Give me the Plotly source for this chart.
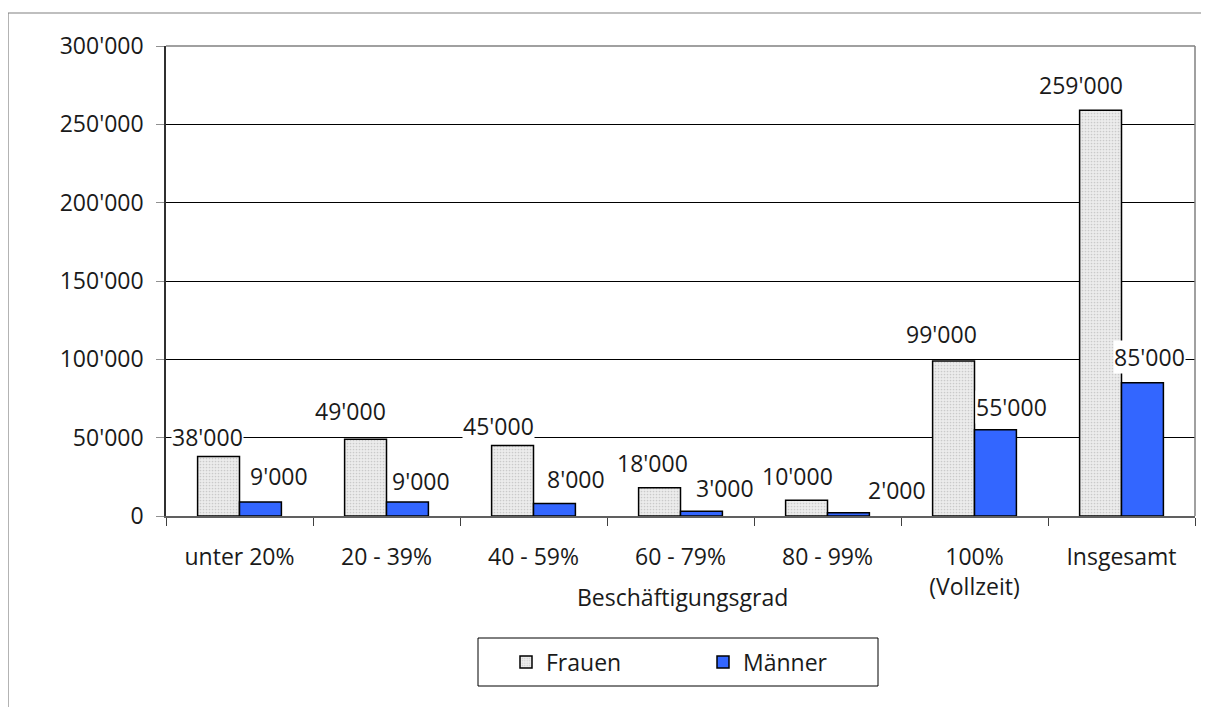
import plotly.graph_objects as go

# ---- data ----
categories = ["unter 20%", "20 - 39%", "40 - 59%", "60 - 79%", "80 - 99%", "100%<br>(Vollzeit)", "Insgesamt"]
frauen = [38000, 49000, 45000, 18000, 10000, 99000, 259000]
maenner = [9000, 9000, 8000, 3000, 2000, 55000, 85000]
y_ticks = [0, 50000, 100000, 150000, 200000, 250000, 300000]
series_names = ["Frauen", "Männer"]
x_title = "Beschäftigungsgrad"

# ---- label placement tweaks (pixels, relative to bar centre / bar top) ----
dx_f = [-11, -15, -14, -7, -9, -12, -20]
dy_f = [19, 28, 20, 25, 24, 27, 25]
dx_m = [18, 13, 21, 23, 48, 16, 7]
dy_m = [26, 21, 24, 23, 23, 23, 26]

def fmt(v):
    return f"{v:,}".replace(",", "'")

FONT = "Open Sans"
FS = 23
TXT = "#1a1a1a"

# page body has an 8px margin: figure occupies 8..1209 x 8..707 of the window
OFF = 8
W, H = 1209 - OFF, 707 - OFF
PLOT_L, PLOT_R, PLOT_T, PLOT_B = 166, 1195, 46, 516  # window pixels
ML, MR, MT, MB = PLOT_L - OFF, 1209 - PLOT_R, PLOT_T - OFF, 707 - PLOT_B
PW, PH = PLOT_R - PLOT_L, PLOT_B - PLOT_T

def px_x(p):
    return (p - PLOT_L) / PW

def px_y(p):
    return (PLOT_B - p) / PH

fig = go.Figure()
fig.add_trace(go.Bar(
    x=categories, y=frauen, name=series_names[0],
    marker=dict(color="#e8e8e8", line=dict(color="black", width=1.5),
                pattern=dict(shape=".", fgcolor="#a8a8a8", bgcolor="#ececec", size=3, solidity=0.25)),
))
fig.add_trace(go.Bar(
    x=categories, y=maenner, name=series_names[1],
    marker=dict(color="#3366ff", line=dict(color="black", width=1.5)),
))

bar_half = 21
annotations = []
for i, c in enumerate(categories):
    annotations.append(dict(
        x=c, y=frauen[i], xref="x", yref="y", text=fmt(frauen[i]),
        showarrow=False, xanchor="center", yanchor="middle",
        xshift=-bar_half + dx_f[i], yshift=dy_f[i],
        bgcolor="white", borderpad=0, font=dict(family=FONT, size=FS, color=TXT)))
    annotations.append(dict(
        x=c, y=maenner[i], xref="x", yref="y", text=fmt(maenner[i]),
        showarrow=False, xanchor="center", yanchor="middle",
        xshift=bar_half + dx_m[i], yshift=dy_m[i],
        bgcolor="white", borderpad=0, font=dict(family=FONT, size=FS, color=TXT)))

annotations.append(dict(
    x=px_x(682), y=px_y(597), xref="paper", yref="paper", text=x_title,
    showarrow=False, xanchor="center", yanchor="middle",
    font=dict(family=FONT, size=FS, color=TXT)))

shapes = [
    # outer chart frame (partially outside the view)
    dict(type="rect", xref="paper", yref="paper",
         x0=px_x(8), x1=px_x(1260), y0=px_y(760), y1=px_y(13),
         line=dict(color="#808080", width=1.2), layer="below"),
    # plot-area border (top/right)
    dict(type="line", xref="paper", yref="paper", x0=0, x1=1, y0=1, y1=1,
         line=dict(color="#808080", width=1.5), layer="above"),
    dict(type="line", xref="paper", yref="paper", x0=1, x1=1, y0=0, y1=1,
         line=dict(color="#808080", width=1.5), layer="above"),
    # legend box
    dict(type="rect", xref="paper", yref="paper",
         x0=px_x(478), x1=px_x(878), y0=px_y(686), y1=px_y(638),
         line=dict(color="black", width=1)),
]

fig.update_layout(
    width=W, height=H,
    margin=dict(l=ML, r=MR, t=MT, b=MB, autoexpand=False),
    paper_bgcolor="white", plot_bgcolor="white",
    barmode="group", bargap=0.43, bargroupgap=0,
    font=dict(family=FONT, size=FS, color=TXT),
    showlegend=True,
    legend=dict(orientation="h", x=px_x(506), xanchor="left",
                y=px_y(662), yanchor="middle",
                bgcolor="rgba(0,0,0,0)", borderwidth=0,
                entrywidth=152, entrywidthmode="pixels",
                font=dict(family=FONT, size=FS, color=TXT)),
    annotations=annotations,
    shapes=shapes,
)

fig.update_xaxes(
    type="category", showgrid=False, showline=True, linecolor="#606060", linewidth=1.5,
    ticks="outside", tickson="boundaries", ticklen=8, tickcolor="#404040", tickwidth=1,
    ticklabelstandoff=20,
    tickfont=dict(family=FONT, size=FS, color=TXT), automargin=False,
)
fig.update_yaxes(
    range=[0, 300000], tickvals=y_ticks, ticktext=[fmt(v) for v in y_ticks],
    showgrid=True, gridcolor="black", gridwidth=1,
    showline=True, linecolor="#303030", linewidth=1.5,
    ticks="outside", ticklen=8, tickcolor="#909090", tickwidth=1,
    ticklabelstandoff=8, zeroline=False,
    tickfont=dict(family=FONT, size=FS, color=TXT), automargin=False,
)

fig.write_html("out.html")
